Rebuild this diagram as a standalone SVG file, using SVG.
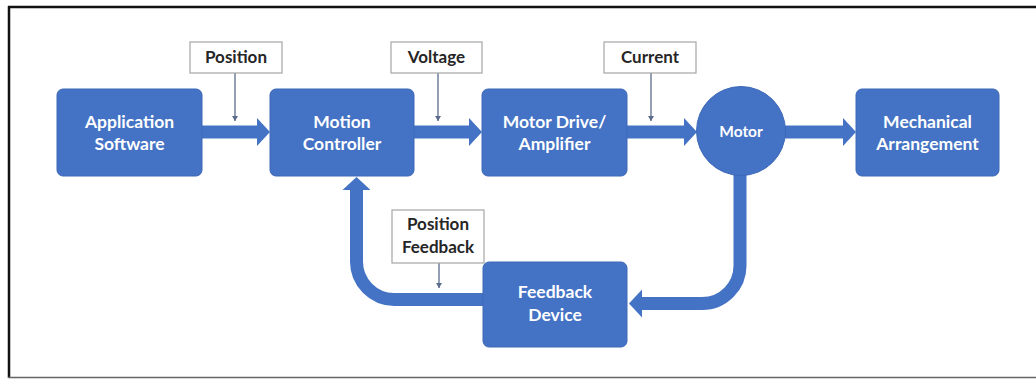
<svg xmlns="http://www.w3.org/2000/svg" width="1036" height="379" viewBox="0 0 1036 379">
<style>
.box{fill:#4472c4;stroke:#3d68b8;stroke-width:1}
.t{font-family:Lato,"Liberation Sans",sans-serif;font-weight:bold;fill:#ffffff;text-anchor:middle}
.lb{fill:#ffffff;stroke:#a6a6a6;stroke-width:1.2}
.lt{font-family:Lato,"Liberation Sans",sans-serif;font-weight:bold;fill:#262626;text-anchor:middle;font-size:17px}
.thick{fill:none;stroke:#4472c4;stroke-width:13;marker-end:url(#big)}
.thin{fill:none;stroke:#5b6b8c;stroke-width:1.3;marker-end:url(#small)}
</style>
<defs>
<marker id="big" markerUnits="userSpaceOnUse" markerWidth="14" markerHeight="28" refX="0" refY="14" orient="auto">
<path d="M0,0 L13,14 L0,28 Z" fill="#4472c4"/>
</marker>
<marker id="small" markerUnits="userSpaceOnUse" markerWidth="6" markerHeight="6" refX="5" refY="3" orient="auto">
<path d="M0,0 L5,3 L0,6 Z" fill="#5b6b8c"/>
</marker>
</defs>
<rect x="0" y="0" width="1036" height="379" fill="#ffffff"/>
<g id="frame">
<line x1="8" y1="7" x2="1036" y2="7" stroke="#111" stroke-width="2.5"/>
<line x1="9" y1="6" x2="9" y2="378" stroke="#111" stroke-width="2.5"/>
<line x1="8" y1="377.5" x2="1036" y2="377.5" stroke="#666" stroke-width="1.5"/>
</g>
<g id="connectors">
<path class="thick" d="M202,132 H257"/>
<path class="thick" d="M414,132 H469"/>
<path class="thick" d="M627,132 H684"/>
<path class="thick" d="M785,132 H843"/>
<path class="thick" d="M483,299.5 H394 A38,38 0 0 1 356.5,261.5 V190"/>
<path class="thick" d="M740,172 V265 A38,38 0 0 1 702,303.5 H642"/>
<path class="thin" d="M235,73 V121"/>
<path class="thin" d="M438,73 V121"/>
<path class="thin" d="M651,73 V121"/>
<path class="thin" d="M439,263 V288"/>
</g>
<g id="app">
<rect class="box" x="57" y="89" width="145" height="87" rx="6"/>
<text class="t" font-size="17.5"><tspan x="129.5" y="128">Application</tspan><tspan x="129.5" y="150">Software</tspan></text>
</g>
<g id="motion">
<rect class="box" x="270" y="89" width="144" height="87" rx="6"/>
<text class="t" font-size="17.5"><tspan x="342" y="128">Motion</tspan><tspan x="342" y="150">Controller</tspan></text>
</g>
<g id="drive">
<rect class="box" x="482" y="89" width="145" height="87" rx="6"/>
<text class="t" font-size="17.5"><tspan x="554.5" y="128">Motor Drive/</tspan><tspan x="554.5" y="150">Amplifier</tspan></text>
</g>
<g id="motor">
<circle cx="741" cy="131" r="44.5" fill="#4472c4" stroke="#3d68b8" stroke-width="1"/>
<text class="t" font-size="15.5" x="741" y="137">Motor</text>
</g>
<g id="mech">
<rect class="box" x="856" y="89" width="143" height="87" rx="6"/>
<text class="t" font-size="17.5"><tspan x="927.5" y="128">Mechanical</tspan><tspan x="927.5" y="150">Arrangement</tspan></text>
</g>
<g id="feedback">
<rect class="box" x="483" y="262" width="144" height="85" rx="6"/>
<text class="t" font-size="17.5"><tspan x="555" y="298">Feedback</tspan><tspan x="555" y="321">Device</tspan></text>
</g>
<g id="lbl-position">
<rect class="lb" x="190" y="42" width="92" height="31"/>
<text class="lt" x="236" y="63">Position</text>
</g>
<g id="lbl-voltage">
<rect class="lb" x="391" y="42" width="91" height="31"/>
<text class="lt" x="436.5" y="63">Voltage</text>
</g>
<g id="lbl-current">
<rect class="lb" x="604" y="42" width="92" height="31"/>
<text class="lt" x="650" y="63">Current</text>
</g>
<g id="lbl-posfb">
<rect class="lb" x="392" y="210" width="92" height="53"/>
<text class="lt"><tspan x="438" y="230">Position</tspan><tspan x="438" y="253">Feedback</tspan></text>
</g>
</svg>
